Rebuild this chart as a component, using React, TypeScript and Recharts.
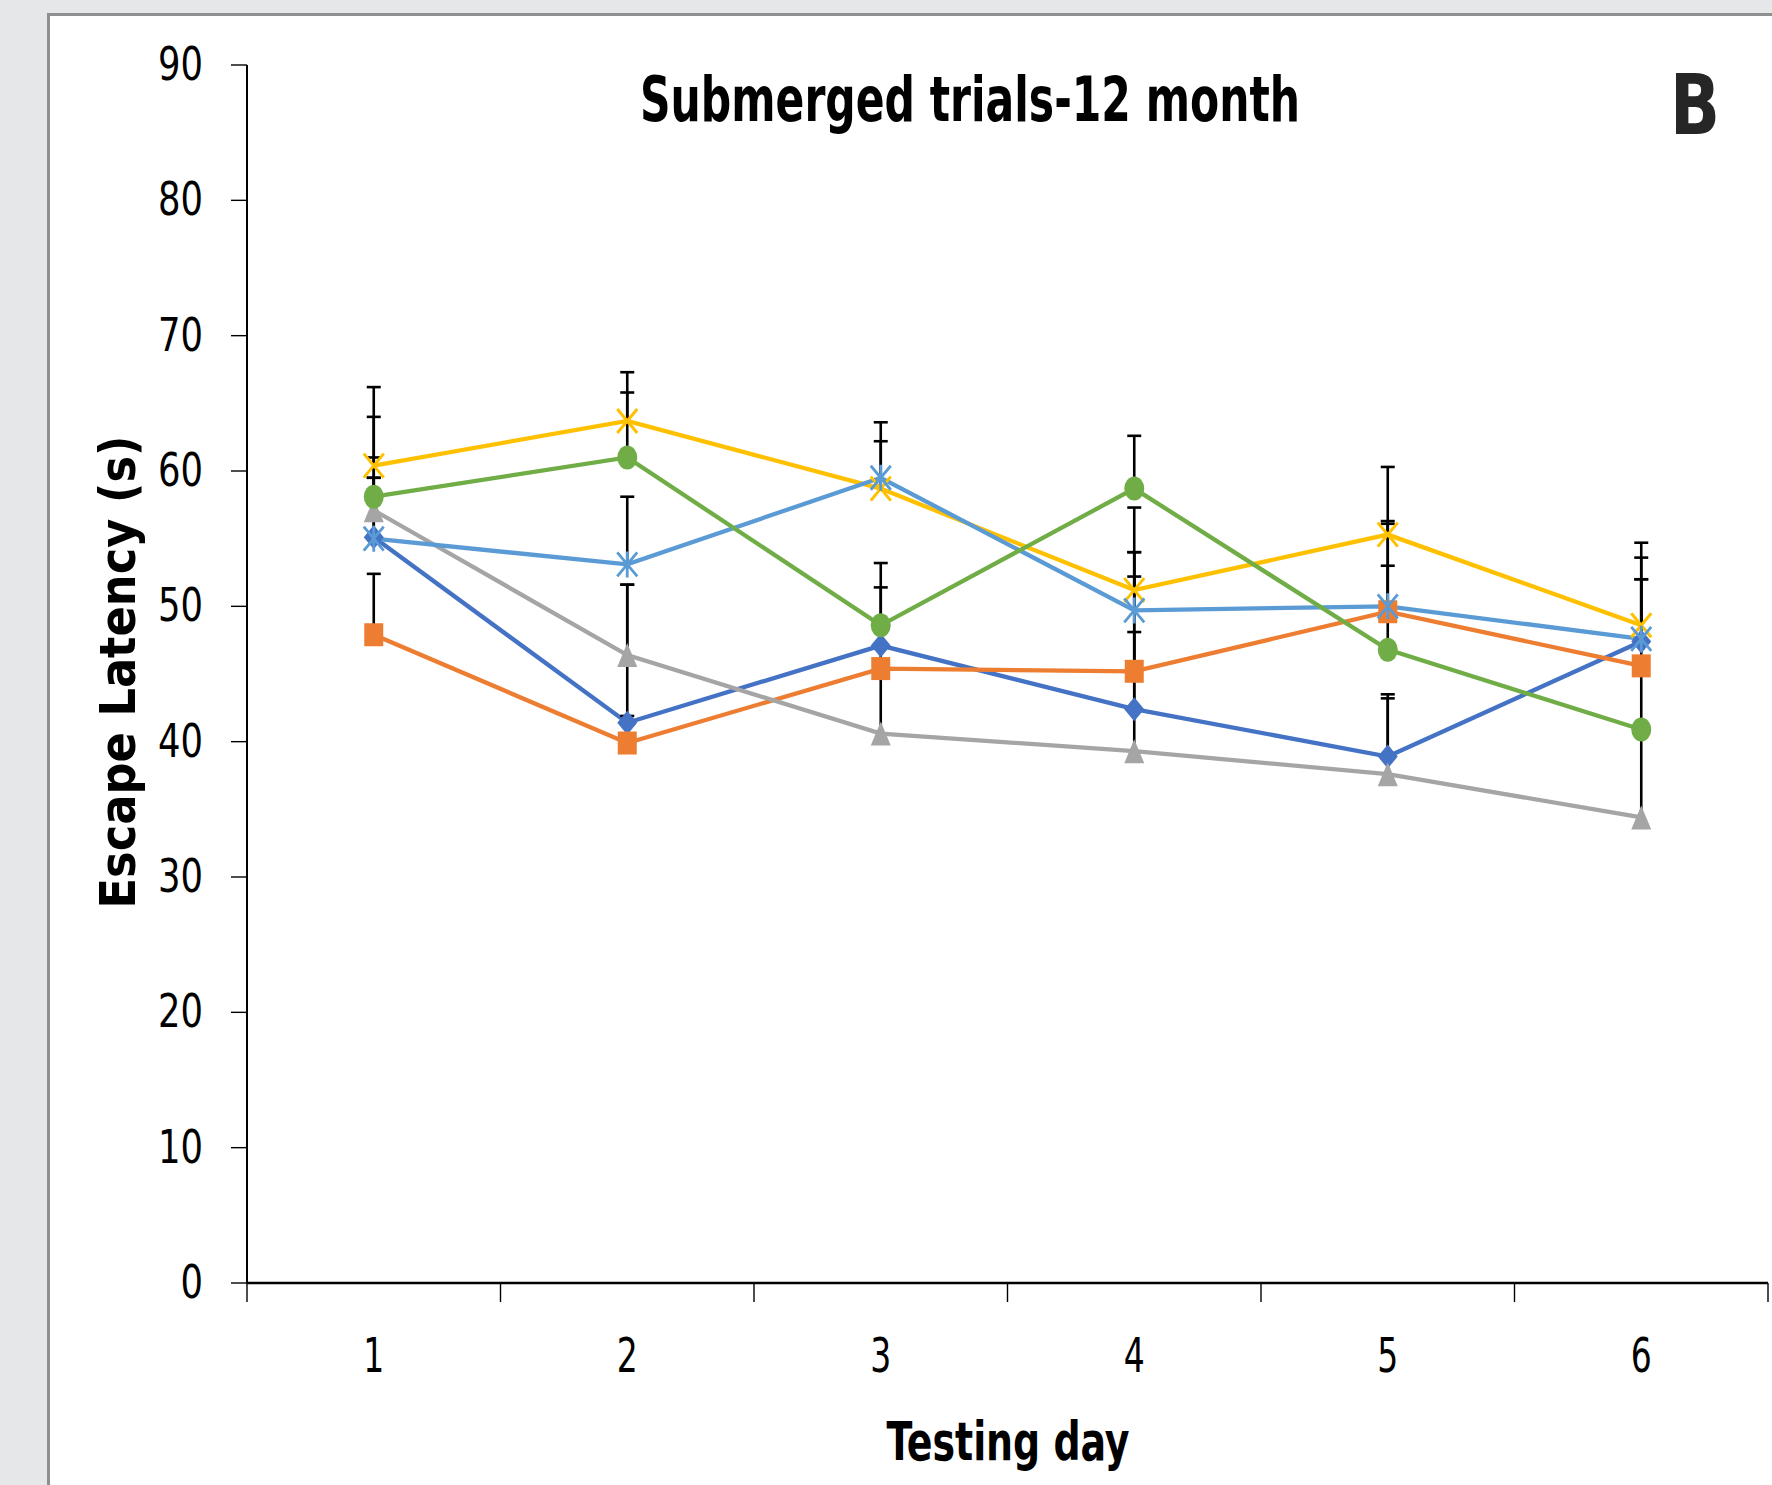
import React from "react";
import { LineChart, Line, XAxis, YAxis, ErrorBar } from "recharts";

const FONT = '"Liberation Sans Narrow", "DejaVu Sans Condensed", "Open Sans", sans-serif';

const days = [1, 2, 3, 4, 5, 6];
const xTicks = [0.5, 1, 1.5, 2, 2.5, 3, 3.5, 4, 4.5, 5, 5.5, 6, 6.5];
const yTicks = [0, 10, 20, 30, 40, 50, 60, 70, 80, 90];

const seriesBlue = [55.1, 41.4, 47.1, 42.4, 38.9, 47.4];
const errBlue = [4.4, 10.2, 4.3, 9.8, 4.6, 4.6];
const seriesOrange = [47.9, 39.9, 45.4, 45.2, 49.6, 45.6];
const errOrange = [4.5, 2.0, 3.0, 8.8, 6.5, 6.4];
const seriesGray = [57.1, 46.4, 40.6, 39.3, 37.6, 34.4];
const errGray = [3.9, 5.2, 5.0, 8.8, 5.6, 6.5];
const seriesYellow = [60.4, 63.7, 58.7, 51.2, 55.3, 48.6];
const errYellow = [5.8, 3.6, 3.5, 6.1, 5.0, 6.1];
const seriesLightBlue = [55.0, 53.1, 59.5, 49.7, 50.0, 47.6];
const errLightBlue = [4.5, 5.0, 4.1, 4.3, 6.3, 6.0];
const seriesGreen = [58.1, 61.0, 48.6, 58.7, 46.8, 40.9];
const errGreen = [5.9, 4.8, 4.6, 3.9, 6.2, 5.0];

type Shape = "diamond" | "square" | "triangle" | "x" | "star" | "circle";
const series: { key: string; values: number[]; errs: number[]; color: string; shape: Shape }[] = [
  { key: "s0", values: seriesBlue, errs: errBlue, color: "#4472C4", shape: "diamond" },
  { key: "s1", values: seriesOrange, errs: errOrange, color: "#ED7D31", shape: "square" },
  { key: "s2", values: seriesGray, errs: errGray, color: "#A5A5A5", shape: "triangle" },
  { key: "s3", values: seriesYellow, errs: errYellow, color: "#FFC000", shape: "x" },
  { key: "s4", values: seriesLightBlue, errs: errLightBlue, color: "#5B9BD5", shape: "star" },
  { key: "s5", values: seriesGreen, errs: errGreen, color: "#70AD47", shape: "circle" },
];

const data = days.map((d, i) => {
  const row: any = { day: d };
  series.forEach((s) => {
    row[s.key] = s.values[i];
    row[s.key + "err"] = [0, s.errs[i]];
    row[s.key + "top"] = s.values[i] + s.errs[i];
  });
  return row;
});

function renderMarker(shape: Shape, color: string, p: any) {
  const { cx, cy } = p;
  const k = p.key ?? `m-${shape}-${p.index}`;
  if (cx == null || cy == null) return <g key={k} />;
  switch (shape) {
    case "diamond":
      return <path key={k} d={`M${cx},${cy - 12}L${cx + 10},${cy}L${cx},${cy + 12}L${cx - 10},${cy}Z`} fill={color} />;
    case "square":
      return <rect key={k} x={cx - 9.5} y={cy - 11.5} width={19} height={23} fill={color} />;
    case "triangle":
      return <path key={k} d={`M${cx},${cy - 12}L${cx + 10},${cy + 12}L${cx - 10},${cy + 12}Z`} fill={color} />;
    case "x":
      return (
        <path key={k} d={`M${cx - 10},${cy - 12}L${cx + 10},${cy + 12}M${cx + 10},${cy - 12}L${cx - 10},${cy + 12}`} stroke={color} strokeWidth={3} fill="none" />
      );
    case "star":
      return (
        <path key={k} d={`M${cx - 10},${cy - 12}L${cx + 10},${cy + 12}M${cx + 10},${cy - 12}L${cx - 10},${cy + 12}M${cx},${cy - 13}L${cx},${cy + 13}`} stroke={color} strokeWidth={2.8} fill="none" />
      );
    default:
      return <ellipse key={k} cx={cx} cy={cy} rx={10} ry={12} fill={color} />;
  }
}

const capDot = (p: any) => {
  const k = p.key ?? `cap-${p.index}`;
  if (p.cx == null || p.cy == null) return <g key={k} />;
  return <path key={k} d={`M${p.cx - 7},${p.cy}H${p.cx + 7}`} stroke="#000" strokeWidth={2.6} />;
};

const XTick = (props: any) => {
  const { x, y, payload } = props;
  const v = payload.value;
  if (Math.abs(v - Math.round(v)) > 0.01) {
    return <line x1={x} y1={y} x2={x} y2={y + 19} stroke="#000" strokeWidth={1.4} />;
  }
  const s = String(v);
  return (
    <text x={x} y={y + 89} textAnchor="middle" fontFamily={FONT} fontSize={48} fill="#000" textLength={21 * s.length} lengthAdjust="spacingAndGlyphs">
      {s}
    </text>
  );
};

const YTick = (props: any) => {
  const { x, y, payload } = props;
  const s = String(payload.value);
  return (
    <text x={x} y={y + 15} textAnchor="end" fontFamily={FONT} fontSize={46} fill="#000" textLength={22.5 * s.length} lengthAdjust="spacingAndGlyphs">
      {s}
    </text>
  );
};

export default function App() {
  return (
    <div style={{ position: "absolute", left: 0, top: 0, width: 1772, height: 1485, background: "#E6E7E9", overflow: "hidden" }}>
      <div
        style={{
          position: "absolute",
          left: 47,
          top: 13,
          width: 1772 - 47,
          height: 1485 - 13,
          background: "#fff",
          borderLeft: "3px solid #8F8F8F",
          borderTop: "3px solid #8F8F8F",
          boxSizing: "border-box",
        }}
      />
      <div style={{ position: "absolute", left: 0, top: 0 }}>
        <LineChart width={1772} height={1485} data={data} margin={{ top: 65, right: 4, left: 0, bottom: 0 }}>
          <XAxis
            dataKey="day"
            type="number"
            domain={[0.5, 6.5]}
            ticks={xTicks}
            interval={0}
            height={202}
            tickLine={false}
            tickSize={0}
            tickMargin={0}
            tick={<XTick />}
            axisLine={{ stroke: "#000", strokeWidth: 2.5 }}
            allowDataOverflow
          />
          <YAxis
            type="number"
            domain={[0, 90]}
            ticks={yTicks}
            interval={0}
            width={247}
            tickSize={16}
            tickMargin={28}
            tickLine={{ stroke: "#000", strokeWidth: 1.4 }}
            tick={<YTick />}
            axisLine={{ stroke: "#000", strokeWidth: 2 }}
          />
          {series.map((s) => (
            <Line
              key={s.key + "eb"}
              dataKey={s.key}
              stroke="none"
              dot={false}
              activeDot={false}
              legendType="none"
              isAnimationActive={false}
            >
              <ErrorBar dataKey={s.key + "err"} direction="y" width={0} stroke="#000" strokeWidth={2.6} isAnimationActive={false} />
            </Line>
          ))}
          {series.map((s) => (
            <Line
              key={s.key + "cap"}
              dataKey={s.key + "top"}
              stroke="none"
              dot={capDot}
              activeDot={false}
              legendType="none"
              isAnimationActive={false}
            />
          ))}
          {series.map((s) => (
            <Line
              key={s.key}
              dataKey={s.key}
              stroke={s.color}
              strokeWidth={4.3}
              dot={(p: any) => renderMarker(s.shape, s.color, p)}
              activeDot={false}
              isAnimationActive={false}
            />
          ))}
        </LineChart>
      </div>
      <svg width={1772} height={1485} style={{ position: "absolute", left: 0, top: 0, pointerEvents: "none" }}>
        <text x={970} y={121} textAnchor="middle" fontFamily={FONT} fontWeight="bold" fontSize={62} textLength={660} lengthAdjust="spacingAndGlyphs" fill="#000">
          Submerged trials-12 month
        </text>
        <text x={1695} y={134} textAnchor="middle" fontFamily={FONT} fontWeight="bold" fontSize={84} textLength={50} lengthAdjust="spacingAndGlyphs" fill="#262626">
          B
        </text>
        <text
          transform="translate(135,672) rotate(-90)"
          textAnchor="middle"
          fontFamily={FONT}
          fontWeight="bold"
          fontSize={49}
          textLength={473}
          lengthAdjust="spacingAndGlyphs"
          fill="#000"
        >
          Escape Latency (s)
        </text>
        <text x={1008} y={1460} textAnchor="middle" fontFamily={FONT} fontWeight="bold" fontSize={54} textLength={243} lengthAdjust="spacingAndGlyphs" fill="#000">
          Testing day
        </text>
      </svg>
    </div>
  );
}
